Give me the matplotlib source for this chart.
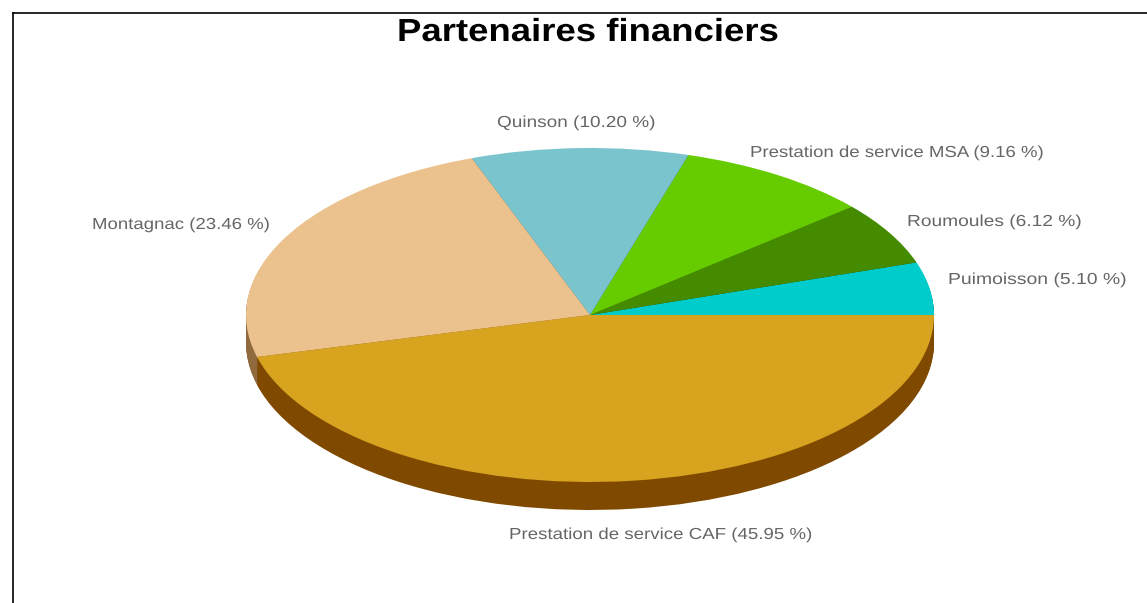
import matplotlib
matplotlib.use("Agg")
import matplotlib.pyplot as plt
from matplotlib.lines import Line2D
from matplotlib.patheffects import AbstractPathEffect
from matplotlib.transforms import Affine2D

# Data
categories = ["Puimoisson", "Roumoules", "Prestation de service MSA", "Quinson",
              "Montagnac", "Prestation de service CAF"]
values = [5.10, 6.12, 9.16, 10.20, 23.46, 45.95]
top_colors = ["#00CCCC", "#458B00", "#66CC00", "#7AC5CD", "#EBC28E", "#D8A31E"]
side_colors = ["#006666", "#224500", "#336600", "#3D6266", "#8F6A3C", "#7F4A00"]
title = "Partenaires financiers"

# Layout (pixels)
W, H = 1147, 603
CX, CY, RX, RY, DEPTH = 590, 315, 344, 167, 28
label_pos = [(948, 284), (907, 226), (750, 157), (497, 127), (92, 229), (509, 539)]
label_stretch = [1.212, 1.20, 1.165, 1.19, 1.165, 1.17]


class HStretch(AbstractPathEffect):
    """Widen a text horizontally about its left anchor (the reference's text is wide-set)."""

    def __init__(self, sx, x0):
        super().__init__()
        self.sx, self.x0 = sx, x0

    def draw_path(self, renderer, gc, tpath, affine, rgbFace=None):
        t = affine + Affine2D().translate(-self.x0, 0).scale(self.sx, 1).translate(self.x0, 0)
        renderer.draw_path(gc, tpath, t, rgbFace)


plt.rcParams["font.family"] = ["Liberation Sans", "DejaVu Sans"]
fig = plt.figure(figsize=(W / 100, H / 100), dpi=100, facecolor="white")
ax = fig.add_axes([0, 0, 1, 1])

for d in list(range(DEPTH, 0, -1)):
    ax.pie(values, colors=side_colors, startangle=0, counterclock=True,
           center=(0, -d / RY), radius=1, normalize=True,
           wedgeprops={"linewidth": 0})
ax.pie(values, colors=top_colors, startangle=0, counterclock=True,
       center=(0, 0), radius=1, normalize=True, wedgeprops={"linewidth": 0})

ax.set_aspect("auto")
ax.set_xlim((0 - CX) / RX, (W - CX) / RX)
ax.set_ylim((CY - H) / RY, CY / RY)
ax.axis("off")

for cat, val, (px, py), sx in zip(categories, values, label_pos, label_stretch):
    fig.text(px / W, 1 - py / H, f"{cat} ({val:.2f} %)", color="#666666",
             fontsize=11.5, ha="left", va="baseline",
             path_effects=[HStretch(sx, px)])

fig.text(397 / W, 1 - 41 / H, title, color="black", fontsize=23,
         fontweight="bold", ha="left", va="baseline",
         path_effects=[HStretch(1.144, 397)])

fig.add_artist(Line2D([12.5 / W, 12.5 / W], [0, 1 - 12.5 / H], color="black", lw=1.2,
                      transform=fig.transFigure))
fig.add_artist(Line2D([12.5 / W, 1], [1 - 12.5 / H, 1 - 12.5 / H], color="black", lw=1.2,
                      transform=fig.transFigure))

fig.savefig("out.png", dpi=100)
